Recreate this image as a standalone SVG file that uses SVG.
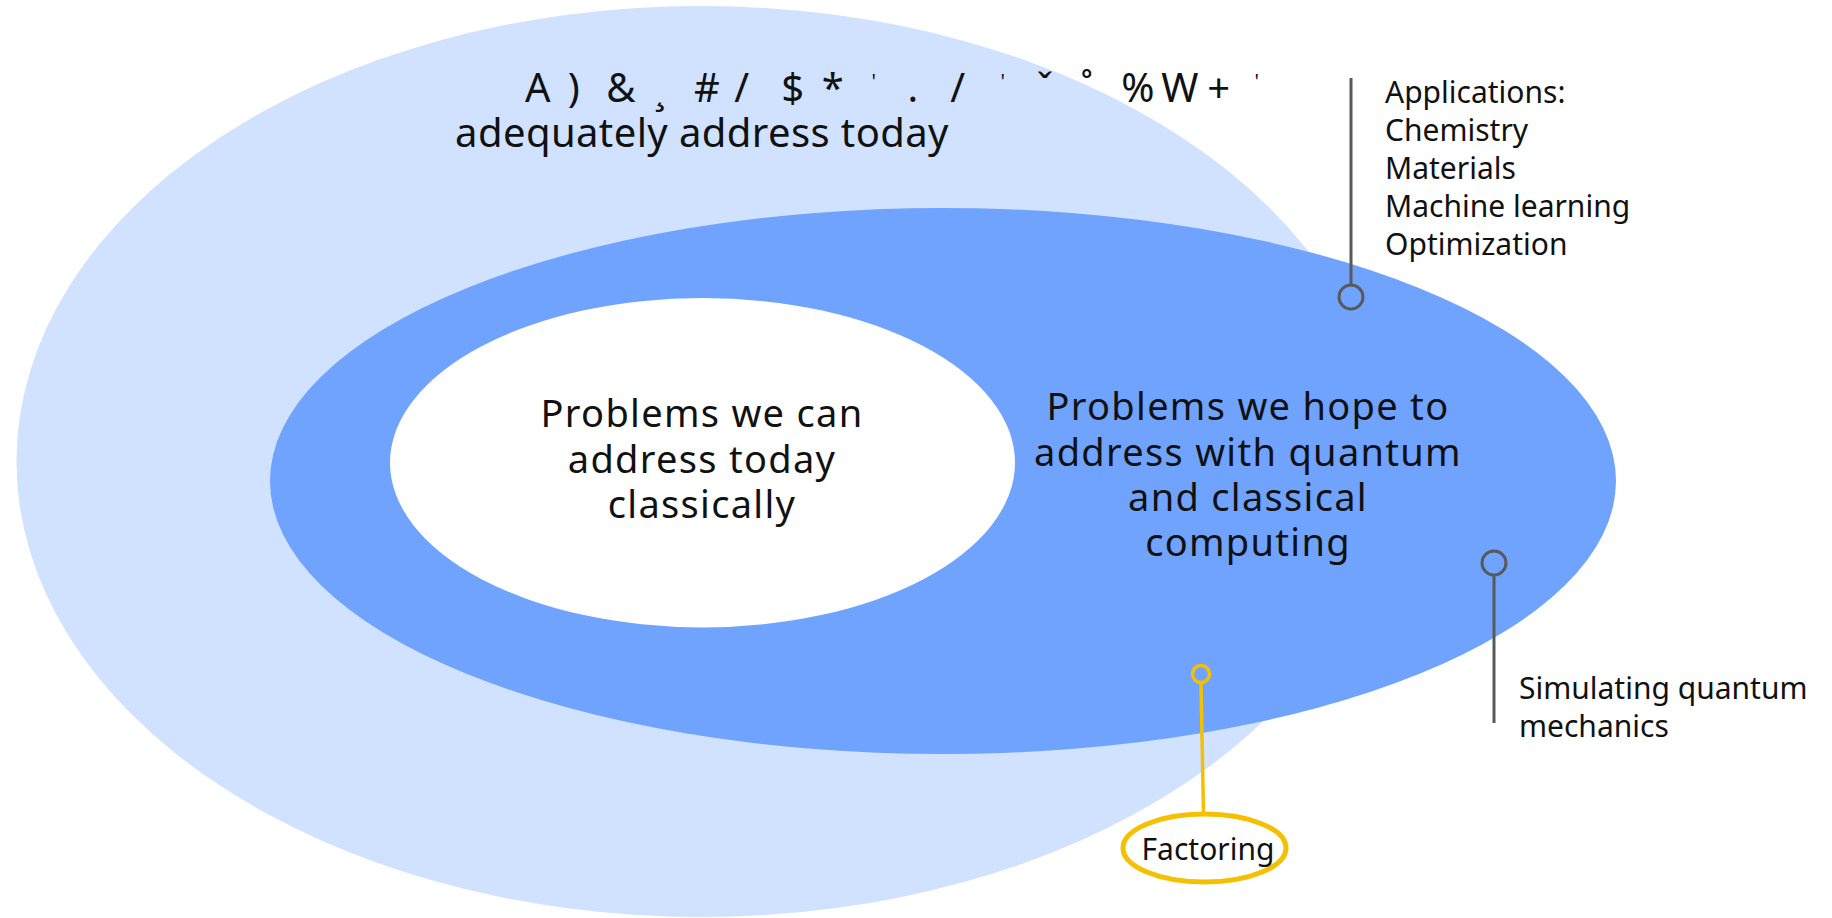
<svg xmlns="http://www.w3.org/2000/svg" width="1832" height="918" viewBox="0 0 1832 918">
  <style>
    text { font-family: "Noto Sans", "Open Sans", "DejaVu Sans", sans-serif; fill: #111111; }
    .big { font-size: 38px; letter-spacing: 1.3px; text-anchor: middle; }
    .top { font-size: 40px; letter-spacing: 0.4px; text-anchor: middle; }
    .tick { font-size: 20px; }
    .label { font-size: 30px; }
    .lead { fill: none; stroke: #595959; stroke-width: 3; }
    .gold { fill: none; stroke: #f5c000; }
  </style>
  <rect width="1832" height="918" fill="#ffffff"/>

  <!-- outer set: problems not adequately addressed today -->
  <g id="outer-set">
    <ellipse cx="701" cy="461.5" rx="684.5" ry="455.5" fill="#d0e2ff"/>
    <text class="top"><tspan y="102" x="538 574 621 660 707 742 793 833 913 958 1045 1087 1138 1180 1219">A)&amp;¸#/$*./ˇ˚%W+</tspan><tspan class="tick" y="88" x="874 1003 1257">'''</tspan><tspan x="702" y="147">adequately address today</tspan></text>
  </g>

  <!-- middle set: quantum + classical -->
  <g id="quantum-set">
    <ellipse cx="943" cy="481" rx="673" ry="273" fill="#6fa3fe"/>
    <text class="big"><tspan x="1248" y="420">Problems we hope to</tspan><tspan x="1248" y="466">address with quantum</tspan><tspan x="1248" y="511">and classical</tspan><tspan x="1248" y="556">computing</tspan></text>
  </g>

  <!-- inner set: classical today -->
  <g id="classical-set">
    <ellipse cx="702.5" cy="462.7" rx="312.5" ry="164.7" fill="#ffffff"/>
    <text class="big"><tspan x="702" y="427">Problems we can</tspan><tspan x="702" y="473">address today</tspan><tspan x="702" y="518">classically</tspan></text>
  </g>

  <!-- callout leaders -->
  <g id="connectors">
    <line class="lead" x1="1351" y1="78" x2="1351" y2="285"/>
    <circle class="lead" cx="1351" cy="297" r="12"/>
    <circle class="lead" cx="1494" cy="563" r="12"/>
    <line class="lead" x1="1494" y1="575" x2="1494" y2="723"/>
    <circle class="gold" cx="1201" cy="674" r="8.5" stroke-width="3.5"/>
    <line class="gold" x1="1201" y1="683" x2="1203.5" y2="813" stroke-width="3.5"/>
  </g>

  <g id="applications">
    <text class="label"><tspan x="1385" y="103">Applications:</tspan><tspan x="1385" y="141">Chemistry</tspan><tspan x="1385" y="179">Materials</tspan><tspan x="1385" y="217">Machine learning</tspan><tspan x="1385" y="255">Optimization</tspan></text>
  </g>

  <g id="simulating">
    <text class="label"><tspan x="1519" y="699">Simulating quantum</tspan><tspan x="1519" y="737">mechanics</tspan></text>
  </g>

  <g id="factoring">
    <ellipse class="gold" cx="1204.5" cy="848" rx="81.5" ry="34" stroke-width="5"/>
    <text class="label" x="1208" y="860" text-anchor="middle">Factoring</text>
  </g>
</svg>
